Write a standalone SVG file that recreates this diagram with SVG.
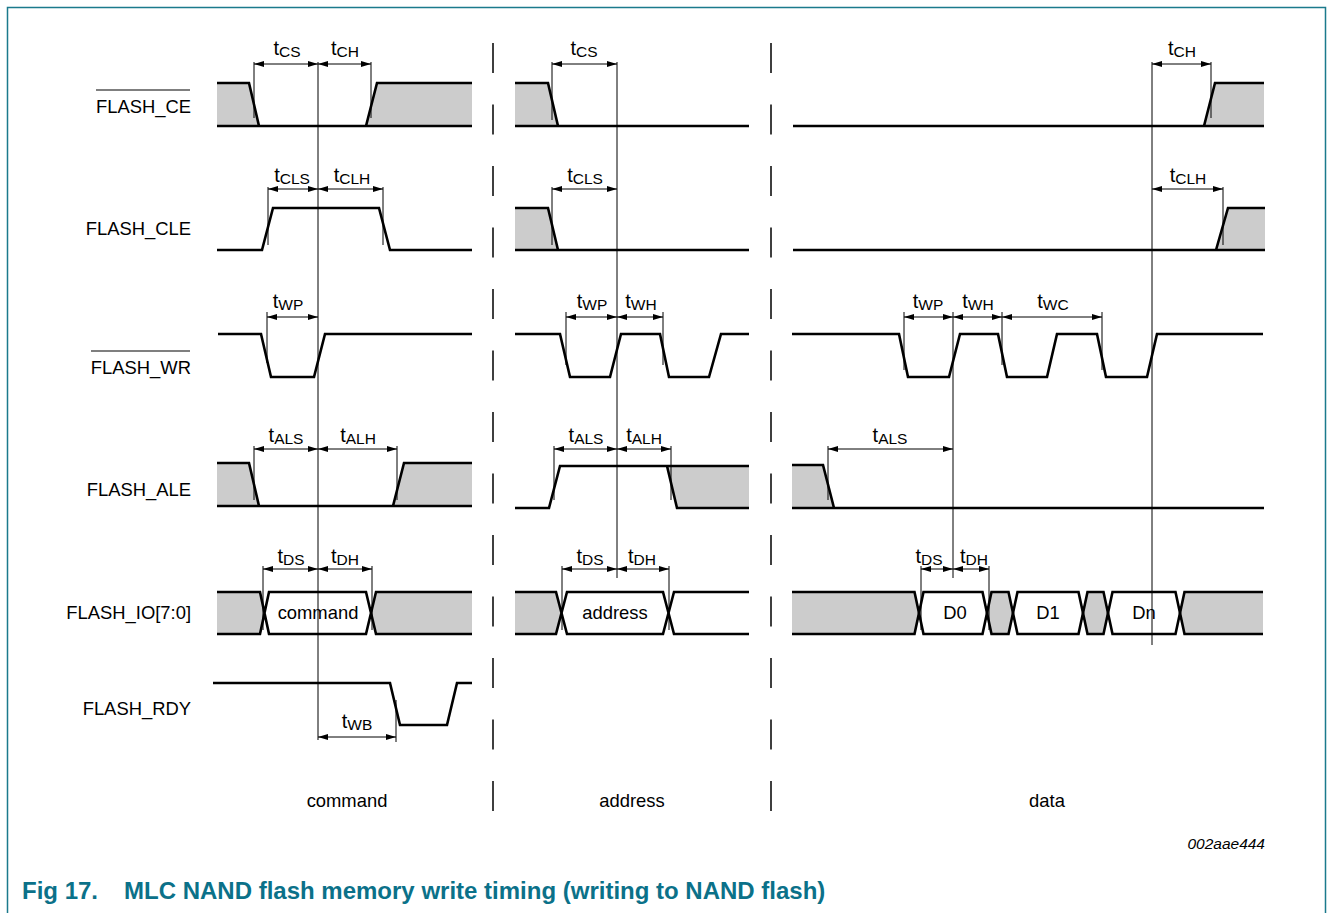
<svg xmlns="http://www.w3.org/2000/svg" width="1328" height="913" viewBox="0 0 1328 913">
<style>
text{font-family:"Liberation Sans",Arial,sans-serif;fill:#000}
.lbl{font-size:18.4px;text-anchor:end}
.box{font-size:18.4px;text-anchor:middle}
.tm{font-size:20px;text-anchor:middle}
.sub{font-size:15.5px}
.sig{fill:none;stroke:#000;stroke-width:2.6;stroke-linejoin:miter}
.gr{fill:#cccccc;stroke:none}
.thin{fill:none;stroke:#000;stroke-width:1}
.dim{fill:none;stroke:#000;stroke-width:1;marker-start:url(#ah);marker-end:url(#ah)}
.sep{fill:none;stroke:#000;stroke-width:1.5;stroke-dasharray:30 31.5}
.ovl{stroke:#000;stroke-width:1.2}
</style>
<defs>
<marker id="ah" viewBox="0 0 10 6" refX="10" refY="3" markerWidth="10" markerHeight="6" markerUnits="userSpaceOnUse" orient="auto-start-reverse">
<path d="M0,0 L10,3 L0,6 Z" fill="#000"/>
</marker>
</defs>
<rect width="1328" height="913" fill="#fff"/>
<path d="M7.5,913 V7.5 H1325.5 V913" fill="none" stroke="#1b7a8c" stroke-width="1.5"/>

<g id="labels">
<text class="lbl" x="191" y="112.5">FLASH_CE</text>
<line class="ovl" x1="96" y1="90" x2="190" y2="90"/>
<text class="lbl" x="191" y="234.5">FLASH_CLE</text>
<text class="lbl" x="191" y="373.5">FLASH_WR</text>
<line class="ovl" x1="91" y1="351" x2="190" y2="351"/>
<text class="lbl" x="191" y="495.5">FLASH_ALE</text>
<text class="lbl" x="191" y="618.5">FLASH_IO[7:0]</text>
<text class="lbl" x="191" y="714.5">FLASH_RDY</text>
</g>

<g id="separators">
<line class="sep" x1="493" y1="43" x2="493" y2="812"/>
<line class="sep" x1="771" y1="43" x2="771" y2="812"/>
</g>

<g id="sig-ce">
<path class="gr" d="M217,83 H249 L259,126 H217 Z"/>
<path class="gr" d="M377,83 H472 V126 H366 Z"/>
<path class="sig" d="M217,83 H249 L259,126 M217,126 H472 M366,126 L377,83 H472"/>
<path class="gr" d="M515,83 H548 L558,126 H515 Z"/>
<path class="sig" d="M515,83 H548 L558,126 M515,126 H749"/>
<path class="gr" d="M1215,83 H1264 V126 H1204 Z"/>
<path class="sig" d="M793,126 H1264 M1204,126 L1215,83 H1264"/>
</g>

<g id="sig-cle">
<path class="sig" d="M217,250 H262 L273,208 H379 L390,250 H472"/>
<path class="gr" d="M515,208 H548 L558,250 H515 Z"/>
<path class="sig" d="M515,208 H548 L558,250 M515,250 H749"/>
<path class="gr" d="M1228,208 H1265 V250 H1216 Z"/>
<path class="sig" d="M793,250 H1265 M1216,250 L1228,208 H1265"/>
</g>

<g id="sig-wr">
<path class="sig" d="M218,334 H261 L271,377 H314 L325,334 H472"/>
<path class="sig" d="M515,334 H560 L570,377 H610 L621,334 H660 L669,377 H709 L721,334 H749"/>
<path class="sig" d="M792,334 H899 L908,377 H949 L960,334 H998 L1007,377 H1047 L1057,334 H1097 L1106,377 H1147 L1157,334 H1263"/>
</g>

<g id="sig-ale">
<path class="gr" d="M217,463 H249 L259,506 H217 Z"/>
<path class="gr" d="M404,463 H472 V506 H393 Z"/>
<path class="sig" d="M217,463 H249 L259,506 M217,506 H472 M393,506 L404,463 H472"/>
<path class="gr" d="M667,466 H749 V508 H677 Z"/>
<path class="sig" d="M515,508 H549 L560,466 H749 M667,466 L677,508 H749"/>
<path class="gr" d="M792,465 H823 L834,508 H792 Z"/>
<path class="sig" d="M792,465 H823 L834,508 M792,508 H1264"/>
</g>

<g id="sig-io">
<path class="gr" d="M217,592 H260 L264.5,613 L260,634 H217 Z"/>
<path class="gr" d="M376,592 H472 V634 H376 L371.5,613 Z"/>
<path class="sig" d="M217,592 H260 L269,634 H366 L376,592 H472 M217,634 H260 L269,592 H366 L376,634 H472"/>
<text class="box" x="318" y="618.5">command</text>
<path class="gr" d="M515,592 H556 L561.5,613 L556,634 H515 Z"/>
<path class="sig" d="M515,592 H556 L567,634 H663 L674,592 H749 M515,634 H556 L567,592 H663 L674,634 H749"/>
<text class="box" x="615" y="618.5">address</text>
<path class="gr" d="M792,592 H914.5 L919,613 L914.5,634 H792 Z"/>
<path class="gr" d="M991.5,592 H1008.5 L1013,613 L1008.5,634 H991.5 L987,613 Z"/>
<path class="gr" d="M1087.5,592 H1103.5 L1108,613 L1103.5,634 H1087.5 L1083,613 Z"/>
<path class="gr" d="M1184.5,592 H1263 V634 H1184.5 L1180,613 Z"/>
<path class="sig" d="M792,592 H914.5 L923.5,634 H982.5 L991.5,592 H1008.5 L1017.5,634 H1078.5 L1087.5,592 H1103.5 L1112.5,634 H1175.5 L1184.5,592 H1263"/>
<path class="sig" d="M792,634 H914.5 L923.5,592 H982.5 L991.5,634 H1008.5 L1017.5,592 H1078.5 L1087.5,634 H1103.5 L1112.5,592 H1175.5 L1184.5,634 H1263"/>
<text class="box" x="955" y="618.5">D0</text>
<text class="box" x="1048" y="618.5">D1</text>
<text class="box" x="1144" y="618.5">Dn</text>
</g>

<g id="sig-rdy">
<path class="sig" d="M213,683 H390 L400,725 H447 L457,683 H472"/>
</g>

<g id="connectors">
<line class="thin" x1="318" y1="62" x2="318" y2="740"/>
<line class="thin" x1="617" y1="62" x2="617" y2="578"/>
<line class="thin" x1="953" y1="312" x2="953" y2="578"/>
<line class="thin" x1="1152" y1="62" x2="1152" y2="645"/>
<path class="thin" d="M254,62 V118 M371,62 V118 M268,187 V245 M383,187 V245 M267,312 V363 M254,446 V500 M397,446 V500 M263,566 V630 M372,566 V630 M396,700 V742"/>
<path class="thin" d="M552,62 V120 M552,187 V245 M566,312 V365 M663,312 V365 M554,446 V500 M671,446 V500 M562,566 V630 M669,566 V630"/>
<path class="thin" d="M1211,62 V118 M1223,187 V245 M904,312 V370 M1002,312 V365 M1102,312 V370 M828,446 V500 M921,566 V630 M989,566 V630"/>
<line class="dim" x1="254" y1="64" x2="318" y2="64"/>
<line class="dim" x1="318" y1="64" x2="371" y2="64"/>
<line class="dim" x1="268" y1="189" x2="318" y2="189"/>
<line class="dim" x1="318" y1="189" x2="383" y2="189"/>
<line class="dim" x1="267" y1="317" x2="318" y2="317"/>
<line class="dim" x1="254" y1="449" x2="318" y2="449"/>
<line class="dim" x1="318" y1="449" x2="397" y2="449"/>
<line class="dim" x1="263" y1="569" x2="318" y2="569"/>
<line class="dim" x1="318" y1="569" x2="372" y2="569"/>
<line class="dim" x1="318" y1="737" x2="396" y2="737"/>
<line class="dim" x1="552" y1="64" x2="617" y2="64"/>
<line class="dim" x1="552" y1="189" x2="617" y2="189"/>
<line class="dim" x1="566" y1="317" x2="617" y2="317"/>
<line class="dim" x1="617" y1="317" x2="663" y2="317"/>
<line class="dim" x1="554" y1="449" x2="617" y2="449"/>
<line class="dim" x1="617" y1="449" x2="671" y2="449"/>
<line class="dim" x1="562" y1="569" x2="617" y2="569"/>
<line class="dim" x1="617" y1="569" x2="669" y2="569"/>
<line class="dim" x1="1152" y1="64" x2="1211" y2="64"/>
<line class="dim" x1="1152" y1="189" x2="1223" y2="189"/>
<line class="dim" x1="904" y1="317" x2="953" y2="317"/>
<line class="dim" x1="953" y1="317" x2="1002" y2="317"/>
<line class="dim" x1="1002" y1="317" x2="1102" y2="317"/>
<line class="dim" x1="828" y1="449" x2="953" y2="449"/>
<line class="dim" x1="921" y1="569" x2="953" y2="569"/>
<line class="dim" x1="953" y1="569" x2="989" y2="569"/>
</g>

<g id="timing-labels">
<text class="tm" x="287" y="55">t<tspan class="sub" dy="2">CS</tspan></text>
<text class="tm" x="345" y="55">t<tspan class="sub" dy="2">CH</tspan></text>
<text class="tm" x="292" y="182">t<tspan class="sub" dy="2">CLS</tspan></text>
<text class="tm" x="352" y="182">t<tspan class="sub" dy="2">CLH</tspan></text>
<text class="tm" x="288" y="308">t<tspan class="sub" dy="2">WP</tspan></text>
<text class="tm" x="286" y="442">t<tspan class="sub" dy="2">ALS</tspan></text>
<text class="tm" x="358" y="442">t<tspan class="sub" dy="2">ALH</tspan></text>
<text class="tm" x="291" y="563">t<tspan class="sub" dy="2">DS</tspan></text>
<text class="tm" x="345" y="563">t<tspan class="sub" dy="2">DH</tspan></text>
<text class="tm" x="357" y="728">t<tspan class="sub" dy="2">WB</tspan></text>
<text class="tm" x="584" y="55">t<tspan class="sub" dy="2">CS</tspan></text>
<text class="tm" x="585" y="182">t<tspan class="sub" dy="2">CLS</tspan></text>
<text class="tm" x="592" y="308">t<tspan class="sub" dy="2">WP</tspan></text>
<text class="tm" x="641" y="308">t<tspan class="sub" dy="2">WH</tspan></text>
<text class="tm" x="586" y="442">t<tspan class="sub" dy="2">ALS</tspan></text>
<text class="tm" x="644" y="442">t<tspan class="sub" dy="2">ALH</tspan></text>
<text class="tm" x="590" y="563">t<tspan class="sub" dy="2">DS</tspan></text>
<text class="tm" x="642" y="563">t<tspan class="sub" dy="2">DH</tspan></text>
<text class="tm" x="1182" y="55">t<tspan class="sub" dy="2">CH</tspan></text>
<text class="tm" x="1188" y="182">t<tspan class="sub" dy="2">CLH</tspan></text>
<text class="tm" x="928" y="308">t<tspan class="sub" dy="2">WP</tspan></text>
<text class="tm" x="978" y="308">t<tspan class="sub" dy="2">WH</tspan></text>
<text class="tm" x="1053" y="308">t<tspan class="sub" dy="2">WC</tspan></text>
<text class="tm" x="890" y="442">t<tspan class="sub" dy="2">ALS</tspan></text>
<text class="tm" x="929" y="563">t<tspan class="sub" dy="2">DS</tspan></text>
<text class="tm" x="974" y="563">t<tspan class="sub" dy="2">DH</tspan></text>
</g>

<g id="phase-labels">
<text class="box" x="347" y="806.5">command</text>
<text class="box" x="632" y="806.5">address</text>
<text class="box" x="1047" y="806.5">data</text>
</g>

<text x="1265" y="849" style="font-size:15.5px;font-style:italic;text-anchor:end">002aae444</text>
<text x="22" y="899" style="font-size:24px;font-weight:bold;fill:#0b7189">Fig 17.<tspan x="124">MLC NAND flash memory write timing (writing to NAND flash)</tspan></text>
</svg>
